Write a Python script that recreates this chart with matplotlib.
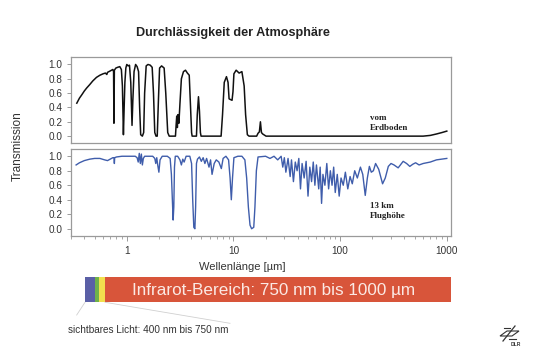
import matplotlib
matplotlib.use("Agg")
import matplotlib.pyplot as plt
from matplotlib.ticker import LogLocator, NullFormatter, FixedLocator, FixedFormatter
from matplotlib.patches import Rectangle, Polygon
from matplotlib.lines import Line2D

plt.rcParams['font.family'] = ['Liberation Sans', 'DejaVu Sans']

# ---------------- data ----------------
ground_wl = [0.34, 0.36, 0.38, 0.40, 0.42, 0.45, 0.48, 0.52, 0.56, 0.60, 0.63, 0.65, 0.66,
             0.70, 0.74, 0.752, 0.758, 0.765, 0.79, 0.82, 0.86, 0.89, 0.91, 0.93, 0.945,
             0.96, 0.98, 1.00, 1.03, 1.06, 1.09, 1.12, 1.14, 1.17, 1.21, 1.25, 1.29, 1.32,
             1.35, 1.40, 1.44, 1.47, 1.52, 1.58, 1.66, 1.73, 1.78, 1.83, 1.88, 1.93, 1.98,
             2.03, 2.12, 2.24, 2.32, 2.42, 2.50, 2.86, 2.90, 2.94, 2.98, 3.02, 3.08, 3.15,
             3.25, 3.40, 3.55, 3.70, 3.85, 3.95, 4.05, 4.10, 4.50, 4.58, 4.70, 4.80, 4.90,
             4.97, 7.66, 7.90, 8.20, 8.60, 8.90, 9.10, 9.70, 9.90, 10.1, 10.6, 11.3, 12.0,
             12.6, 13.0, 13.5, 14.0, 16.5, 17.0, 17.5, 17.9, 18.3, 18.8, 20.2, 600.0,
             700.0, 800.0, 900.0, 1000.0]
ground_tr = [0.46, 0.53, 0.58, 0.63, 0.67, 0.72, 0.77, 0.82, 0.85, 0.87, 0.88, 0.86, 0.89,
             0.91, 0.93, 0.90, 0.18, 0.92, 0.95, 0.96, 0.97, 0.93, 0.70, 0.02, 0.40,
             0.75, 0.95, 1.00, 0.98, 0.99, 0.75, 0.15, 0.50, 0.90, 1.00, 0.97, 0.90, 0.40,
             0.02, 0.00, 0.05, 0.60, 0.98, 1.00, 0.99, 0.96, 0.60, 0.05, 0.00, 0.00, 0.50,
             0.95, 0.98, 0.95, 0.60, 0.05, 0.00, 0.00, 0.15, 0.28, 0.12, 0.30, 0.18, 0.45,
             0.80, 0.90, 0.92, 0.88, 0.85, 0.45, 0.05, 0.00, 0.00, 0.30, 0.55, 0.35, 0.05,
             0.00, 0.00, 0.30, 0.75, 0.83, 0.75, 0.52, 0.50, 0.62, 0.87, 0.92, 0.88, 0.90,
             0.70, 0.30, 0.02, 0.00, 0.00, 0.04, 0.06, 0.20, 0.05, 0.03, 0.00, 0.00,
             0.01, 0.03, 0.05, 0.07]

flight_wl = [0.335, 0.36, 0.40, 0.45, 0.50, 0.56, 0.62, 0.66, 0.70, 0.74, 0.76, 0.765, 0.77,
             0.80, 0.90, 1.0, 1.1, 1.2, 1.25, 1.28, 1.31, 1.34, 1.37, 1.40, 1.43, 1.47, 1.6,
             1.75, 1.83, 1.87, 1.91, 1.95, 2.0, 2.05, 2.15, 2.4, 2.55, 2.62, 2.68, 2.72, 2.76,
             2.80, 2.85, 3.0, 3.15, 3.25, 3.35, 3.45, 3.6, 3.9, 4.05, 4.15, 4.25, 4.35, 4.42,
             4.50, 4.6, 4.8, 5.0, 5.2, 5.4, 5.6, 5.9, 6.1, 6.3, 6.6, 6.9, 7.3, 7.7, 8.0, 8.5,
             9.0, 9.3, 9.55, 9.8, 10.1, 11, 12, 12.8, 13.3, 13.8, 14.3, 14.8, 15.5, 15.9, 16.4,
             17.0, 20, 22, 24, 26, 28, 29, 30, 31, 32.5, 34, 35, 36.5, 38, 39.5, 41, 42.5, 44,
             46, 48, 50, 52, 54, 56, 58, 60, 63, 65, 67, 69, 72, 75, 78, 81, 84, 87, 90, 94,
             98, 102, 107, 112, 118, 124, 130, 137, 145, 155, 163, 172, 180, 188, 196, 205,
             215, 230, 250, 265, 283, 300, 320, 350, 390, 420, 450, 480, 510, 550, 600, 650,
             700, 800, 900, 1000]
flight_tr = [0.88, 0.91, 0.94, 0.96, 0.97, 0.97, 0.95, 0.94, 0.96, 0.98, 0.98, 0.90, 0.98,
             0.99, 1.0, 1.0, 1.0, 1.0, 0.98, 0.92, 1.04, 0.90, 1.03, 0.88, 0.97, 1.0, 1.0,
             1.0, 0.97, 0.90, 0.98, 0.88, 0.78, 0.95, 1.0, 1.0, 0.97, 0.75, 0.35, 0.12, 0.30,
             0.85, 1.0, 1.0, 0.95, 0.88, 0.96, 0.92, 1.0, 1.0, 0.90, 0.40, 0.02, 0.0, 0.30,
             0.90, 0.96, 0.99, 0.93, 0.98, 0.90, 0.97, 0.85, 0.95, 0.75, 0.90, 0.95, 0.92,
             0.83, 0.97, 1.0, 0.95, 0.70, 0.40, 0.70, 0.98, 1.0, 1.0, 0.95, 0.70, 0.30, 0.05,
             0.0, 0.02, 0.30, 0.80, 0.99, 1.0, 0.97, 1.0, 0.95, 1.0, 0.85, 0.98, 0.78, 0.97,
             0.72, 0.95, 0.65, 0.92, 0.80, 0.97, 0.55, 0.90, 0.70, 0.93, 0.45, 0.85, 0.65,
             0.92, 0.60, 0.88, 0.55, 0.85, 0.35, 0.75, 0.60, 0.90, 0.55, 0.80, 0.60, 0.85,
             0.50, 0.75, 0.45, 0.70, 0.60, 0.78, 0.55, 0.72, 0.62, 0.80, 0.70, 0.85, 0.75,
             0.46, 0.70, 0.86, 0.78, 0.80, 0.90, 0.82, 0.62, 0.70, 0.86, 0.90, 0.88, 0.84,
             0.93, 0.90, 0.86, 0.89, 0.91, 0.88, 0.90, 0.91, 0.92, 0.95, 0.96, 0.97]

y_ticks = [0.0, 0.2, 0.4, 0.6, 0.8, 1.0]
x_ticks = [1, 10, 100, 1000]
x_tick_labels = ['1', '10', '100', '1000']

band_names = ['violett-blau', 'grün', 'gelb', 'infrarot']
band_colors = ['#5a5fa6', '#6fb24a', '#f2e04e', '#d8553a']

title = 'Durchlässigkeit der Atmosphäre'
label_ground = 'vom\nErdboden'
label_flight = '13 km\nFlughöhe'
ir_text = 'Infrarot-Bereich: 750 nm bis 1000 µm'
vis_text = 'sichtbares Licht: 400 nm bis 750 nm'

# ---------------- figure ----------------
W, H = 540, 358
fig = plt.figure(figsize=(W / 100, H / 100), dpi=100)
fig.patch.set_facecolor('white')

def fx(px):
    return px / W

def fy(py):
    return 1 - py / H

left, right = 71.0, 451.0
ax1 = fig.add_axes([fx(left), fy(143.3), fx(right - left), (143.3 - 57.3) / H])
ax2 = fig.add_axes([fx(left), fy(236.0), fx(right - left), (236.0 - 149.0) / H])

spine_col = '#9a9a9a'
tick_col = '#333333'
for ax in (ax1, ax2):
    ax.set_xscale('log')
    ax.set_xlim(0.30, 1095)
    ax.set_ylim(-0.10, 1.10)
    for s in ax.spines.values():
        s.set_color(spine_col)
        s.set_linewidth(0.9)
    ax.set_yticks(y_ticks)
    ax.set_yticklabels([f'{v:.1f}' for v in y_ticks])
    ax.tick_params(axis='y', direction='out', length=3, width=0.7, color=spine_col,
                   labelsize=7.2, labelcolor=tick_col, pad=3)

ax1.plot(ground_wl, ground_tr, color='#111111', lw=1.1)
ax1.tick_params(axis='x', which='both', bottom=False, labelbottom=False)

ax2.plot(flight_wl, flight_tr, color='#3f5dab', lw=1.0)
ax2.xaxis.set_major_locator(FixedLocator(x_ticks))
ax2.xaxis.set_major_formatter(FixedFormatter(x_tick_labels))
ax2.xaxis.set_minor_locator(LogLocator(base=10, subs=range(2, 10), numticks=20))
ax2.xaxis.set_minor_formatter(NullFormatter())
ax2.tick_params(axis='x', which='major', direction='out', length=3.5, width=0.7,
                color=spine_col, labelsize=7.2, labelcolor=tick_col, pad=4)
ax2.tick_params(axis='x', which='minor', direction='out', length=2, width=0.6,
                color=spine_col)

fig.text(fx(233), fy(33.3), title, ha='center', va='center', fontsize=9.1,
         fontweight='bold', color='#222222')
fig.text(fx(242), fy(266.7), 'Wellenlänge [µm]', ha='center', va='center',
         fontsize=8.0, color='#333333')
fig.text(fx(17.5), fy(146), 'Transmission', ha='center', va='center', rotation=90,
         fontsize=8.5, color='#333333')

serif = ['Liberation Serif', 'DejaVu Serif']
fig.text(fx(370), fy(122.8), label_ground, ha='left', va='center', fontsize=6.5,
         fontweight='bold', family=serif, color='#222222', linespacing=1.3)
fig.text(fx(370), fy(210.8), label_flight, ha='left', va='center', fontsize=6.5,
         fontweight='bold', family=serif, color='#222222', linespacing=1.3)

# ---------------- spectrum bar ----------------
bar_left, bar_right, bar_top, bar_bot = 85.0, 451.0, 276.7, 302.3
axb = fig.add_axes([fx(bar_left), fy(bar_bot), fx(bar_right - bar_left),
                    (bar_bot - bar_top) / H])
axb.set_xlim(0, 1)
axb.set_ylim(0, 1)
axb.axis('off')
band_widths = [0.0273, 0.0117, 0.0156, 0.9454]
start = 0.0
for name, col, w in zip(band_names, band_colors, band_widths):
    axb.add_patch(Rectangle((start, 0), w, 1, facecolor=col, edgecolor='none'))
    start += w
axb.text(0.515, 0.47, ir_text, ha='center', va='center', fontsize=12.3,
         color='#fbe9e4')

# connector lines to visible-light label
line_col = '#d0d0d0'
fig.add_artist(Line2D([fx(85), fx(76.7)], [fy(302.3), fy(315)], color=line_col,
                      lw=0.6, transform=fig.transFigure))
fig.add_artist(Line2D([fx(105), fx(230)], [fy(302.3), fy(323.3)], color=line_col,
                      lw=0.6, transform=fig.transFigure))
fig.text(fx(68.3), fy(330), vis_text, ha='left', va='center', fontsize=7.2,
         color='#333333')

# ---------------- DLR logo ----------------
logo_col = '#333333'
fig.add_artist(Polygon([(fx(500), fy(336)), (fx(507), fy(331)), (fx(519), fy(331)),
                        (fx(512), fy(336))], closed=True, fill=False,
                       edgecolor=logo_col, lw=0.8, transform=fig.transFigure))
fig.add_artist(Line2D([fx(503), fx(515)], [fy(341), fy(326)], color=logo_col,
                      lw=0.9, transform=fig.transFigure))
fig.add_artist(Line2D([fx(504), fx(510)], [fy(328), fy(328)], color=logo_col,
                      lw=0.8, transform=fig.transFigure))
fig.add_artist(Line2D([fx(509), fx(516)], [fy(339), fy(339)], color=logo_col,
                      lw=0.8, transform=fig.transFigure))
fig.text(fx(516), fy(344), 'DLR', ha='center', va='center', fontsize=3.6,
         fontweight='bold', color=logo_col)

fig.savefig('out.png', dpi=100, facecolor='white')
